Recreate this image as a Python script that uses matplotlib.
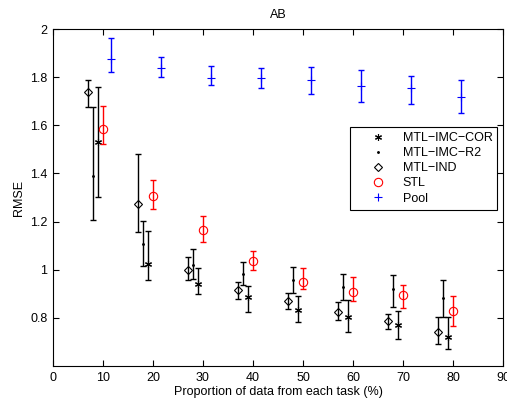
import numpy as np
import matplotlib
matplotlib.use('Agg')
import matplotlib.pyplot as plt

# proportion of data from each task (%)
x_cor  = [9, 19, 29, 39, 49, 59, 69, 79]
x_r2   = [8, 18, 28, 38, 48, 58, 68, 78]
x_ind  = [7, 17, 27, 37, 47, 57, 67, 77]
x_stl  = [10, 20, 30, 40, 50, 60, 70, 80]
x_pool = [11.6, 21.6, 31.6, 41.6, 51.6, 61.6, 71.6, 81.6]

# RMSE: mean, lower end, upper end of the bar
cor_m  = [1.531, 1.025, 0.940, 0.885, 0.834, 0.804, 0.770, 0.722]
cor_lo = [1.303, 0.957, 0.898, 0.826, 0.781, 0.742, 0.712, 0.670]
cor_hi = [1.758, 1.160, 1.007, 0.932, 0.889, 0.874, 0.828, 0.805]

r2_m  = [1.389, 1.108, 1.021, 0.982, 0.957, 0.927, 0.919, 0.882]
r2_lo = [1.208, 1.015, 0.961, 0.938, 0.904, 0.874, 0.846, 0.802]
r2_hi = [1.675, 1.204, 1.087, 1.033, 1.012, 0.981, 0.978, 0.956]

ind_m  = [1.740, 1.273, 1.000, 0.914, 0.870, 0.826, 0.786, 0.740]
ind_lo = [1.677, 1.158, 0.957, 0.880, 0.838, 0.790, 0.752, 0.691]
ind_hi = [1.787, 1.479, 1.052, 0.949, 0.904, 0.867, 0.817, 0.802]

stl_m  = [1.583, 1.306, 1.165, 1.036, 0.950, 0.909, 0.895, 0.828]
stl_lo = [1.522, 1.252, 1.114, 1.000, 0.919, 0.869, 0.842, 0.766]
stl_hi = [1.680, 1.373, 1.224, 1.079, 1.008, 0.970, 0.935, 0.889]

pool_m  = [1.875, 1.837, 1.796, 1.795, 1.787, 1.764, 1.754, 1.716]
pool_lo = [1.820, 1.800, 1.766, 1.755, 1.729, 1.697, 1.687, 1.650]
pool_hi = [1.961, 1.882, 1.848, 1.839, 1.843, 1.828, 1.805, 1.789]

plt.rcParams['font.family'] = ['Liberation Sans', 'DejaVu Sans']
plt.rcParams['font.size'] = 9

fig = plt.figure(figsize=(5.07, 4.01), dpi=100)
ax = fig.add_axes([53/507, 35/401, 450/507, 337/401])

def eb(x, m, lo, hi, color, marker, ms, label, mfc='none'):
   m = np.array(m); lo = np.array(lo); hi = np.array(hi)
   ax.errorbar(x, m, yerr=[m-lo, hi-m], fmt='none', ecolor=color,
               elinewidth=1.0, capsize=2.5, capthick=1.0)
   ax.plot(x, m, linestyle='none', marker=marker, ms=ms, mfc=mfc,
           mec=color, color=color, mew=0.8, label=label)

eb(x_cor, cor_m, cor_lo, cor_hi, 'k', (6, 2, 0), 5, 'MTL\u2212IMC\u2212COR')
eb(x_r2, r2_m, r2_lo, r2_hi, 'k', '.', 2.5, 'MTL\u2212IMC\u2212R2', mfc='k')
eb(x_ind, ind_m, ind_lo, ind_hi, 'k', 'D', 4.5, 'MTL\u2212IND')
eb(x_stl, stl_m, stl_lo, stl_hi, 'r', 'o', 6, 'STL')
eb(x_pool, pool_m, pool_lo, pool_hi, 'b', '+', 6, 'Pool')

ax.set_xlim(0, 90)
ax.set_ylim(0.6, 2.0)
ax.set_xticks(np.arange(0, 91, 10))
ax.set_yticks([0.8, 1, 1.2, 1.4, 1.6, 1.8, 2])
ax.set_yticklabels(['0.8', '1', '1.2', '1.4', '1.6', '1.8', '2'])
ax.tick_params(direction='in', top=True, right=True, length=4, width=0.8, pad=4)
for s in ax.spines.values():
   s.set_linewidth(0.8)

ax.set_xlabel('Proportion of data from each task (%)', labelpad=2)
ax.set_ylabel('RMSE', labelpad=4)
ax.set_title('AB', fontsize=9, pad=8)

leg = ax.legend(loc='upper left', bbox_to_anchor=(297/450, 1-98/337),
                fancybox=False, edgecolor='k', framealpha=1, borderpad=0.4,
                handlelength=3.6, labelspacing=0.25, handletextpad=0.2, borderaxespad=0)
leg.get_frame().set_linewidth(0.8)

plt.savefig('out.png', dpi=100)
